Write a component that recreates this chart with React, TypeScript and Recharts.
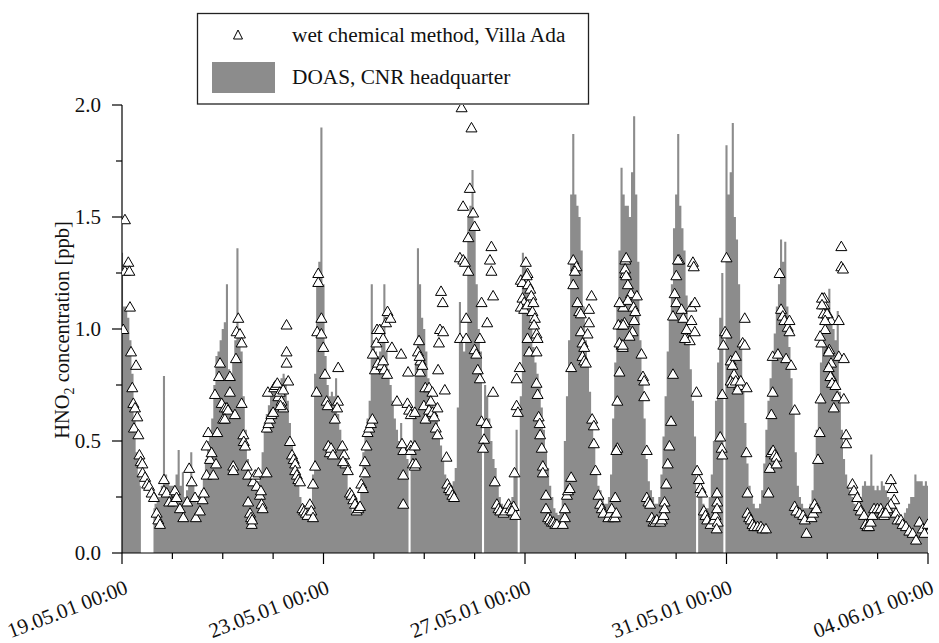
import React from 'react';
import { ComposedChart, Area, Scatter, XAxis, YAxis, Label } from 'recharts';

// DOAS, CNR headquarter: hourly values (hours since 19.05.01 00:00), null = no data
const doasDay19 = [1.34, 1.1, 1.1, 1.05, 0.95, 0.8, 0.6, 0.45, 0.35, 0.3, null, null, null, null, null, 0.2, 0.22, 0.25, 0.25, 0.3, 0.79, 0.35, 0.32, 0.3];
const doasDay20 = [0.3, 0.3, 0.35, 0.46, 0.3, 0.36, 0.25, 0.28, 0.3, 0.45, 0.3, 0.25, 0.22, 0.25, 0.28, 0.35, 0.42, 0.5, 0.55, 0.6, 0.75, 0.88, 0.9, 0.95];
const doasDay21 = [1.0, 1.03, 1.2, 0.82, 0.8, 0.85, 0.95, 1.36, 1.0, 0.9, 0.7, 0.55, 0.42, 0.35, 0.3, 0.28, 0.3, 0.32, 0.35, 0.45, 0.58, 0.62, 0.66, 0.7];
const doasDay22 = [0.72, 0.74, 0.72, 0.75, 0.78, 0.8, 0.78, 0.68, 0.58, 0.5, 0.42, 0.38, 0.3, 0.25, 0.2, 0.18, 0.18, 0.2, 0.22, 0.35, 0.8, 1.2, 1.3, 1.9];
const doasDay23 = [1.2, 0.88, 0.75, 0.7, 0.72, 0.7, 0.78, 0.62, 0.55, 0.5, 0.45, 0.35, 0.28, 0.2, 0.18, 0.2, 0.22, 0.2, 0.3, 0.45, 0.55, 0.6, 0.68, 1.2];
const doasDay24 = [0.95, 0.9, 0.88, 0.9, 0.95, 1.2, 0.9, 0.82, 0.75, 0.68, 0.6, 0.55, 0.5, 0.58, 0.45, 0.45, 0.42, 0, 0.45, 0.6, 0.85, 1.36, 1.2, 1.05];
const doasDay25 = [1.0, 0.9, 0.78, 0.72, 0.68, 0.62, 0.6, 0.55, 0.48, 0.42, 0.35, 0.32, 0.3, 0.3, 0.32, 0.38, 0.65, 1.12, 0.95, 0.9, 0.95, 1.5, 1.55, 1.71];
const doasDay26 = [1.45, 1.2, 1.0, 0.9, 0, 0.75, 0.7, 0.6, 0.5, 0.42, 0.38, 0.3, 0.25, 0.22, 0.2, 0.2, 0.22, 0.22, 0.25, 0.38, 0.55, 0, 0.7, 1.34];
const doasDay27 = [1.3, 1.2, 1.1, 1.0, 0.92, 0.85, 0.8, 0.75, 0.65, 0.55, 0.45, 0.38, 0.3, 0.25, 0.2, 0.18, 0.17, 0.18, 0.25, 0.5, 0.7, 0.95, 1.6, 1.87];
const doasDay28 = [1.6, 1.55, 1.5, 1.35, 1.1, 0.95, 0.85, 0.72, 0.6, 0.5, 0.38, 0.3, 0.28, 0.25, 0.22, 0.22, 0.25, 0.35, 0.6, 0.85, 1.1, 1.35, 1.72, 1.6];
const doasDay29 = [1.55, 1.55, 1.5, 1.7, 1.95, 1.6, 1.3, 0.95, 0.78, 0.6, 0.42, 0.32, 0.28, 0.25, 0.22, 0.22, 0.25, 0.35, 0.52, 0.7, 0.9, 1.05, 1.2, 1.45];
const doasDay30 = [1.6, 1.87, 1.55, 1.45, 1.35, 1.15, 0.98, 0.82, 0.68, 0.52, 0, 0.3, 0.25, 0.22, 0.2, 0.2, 0.25, 0.35, 0.5, 0.68, 0.85, 1.05, 1.25, 0];
const doasDay31 = [1.82, 1.6, 1.7, 1.92, 1.5, 1.4, 1.2, 0.95, 0.72, 0.58, 0.4, 0.3, 0.25, 0.22, 0.2, 0.2, 0.22, 0.28, 0.4, 0.55, 0.68, 0.78, 0.88, 0.98];
const doasDay01 = [1.1, 1.2, 1.4, 1.3, 1.39, 1.1, 0.92, 0.78, 0.62, 0.45, 0.3, 0.25, 0.22, 0.2, 0.2, 0.2, 0.22, 0.28, 0.4, 0.55, 0.7, 0.85, 0.98, 1.05];
const doasDay02 = [1.1, 1.18, 1.05, 1.0, 0.95, 1.08, 0.72, 0.55, 0.42, 0.35, 0.3, 0.28, 0.25, 0.22, 0.2, 0.2, 0.25, 0.3, 0.32, 0.3, 0.3, 0.44, 0.3, 0.28];
const doasDay03 = [0.3, 0.28, 0.32, 0.3, 0.28, 0.25, 0.22, 0.2, 0.18, 0.2, 0.18, 0.15, 0.15, 0.18, 0.2, 0.22, 0.25, 0.25, 0.35, 0.32, 0.32, 0.32, 0.3, 0.32, 0.3];

// wet chemical method, Villa Ada: [hours since 19.05.01 00:00, ppb]
const wet19: [number, number][] = [[1.4,1.49],[3.0,1.30],[1.4,1.26],[3.5,1.26],[3.8,1.10],[0.6,1.00],[4.3,0.90],[6.7,0.84],[4.9,0.74],[5.4,0.67],[6.2,0.65],[7.3,0.61],[5.7,0.56],[7.8,0.53],[8.3,0.44],[8.9,0.41],[9.7,0.40],[9.8,0.36],[11,0.34],[12,0.31],[12.9,0.30],[14.1,0.27],[15.2,0.25],[16.5,0.18],[17.3,0.15],[18.1,0.13],[20,0.33],[20,0.28],[21.3,0.27],[22.5,0.23]];
const wet20: [number, number][] = [[24.4,0.23],[25.2,0.28],[26,0.25],[27.6,0.20],[29.2,0.16],[31.1,0.23],[32,0.38],[33.2,0.32],[34.8,0.25],[35.2,0.16],[37.1,0.19],[38.4,0.24],[39,0.27],[40.3,0.35],[40.3,0.48],[41.1,0.54],[41.9,0.42],[42.7,0.45],[43.5,0.35],[44.8,0.40],[45.4,0.54],[44.3,0.71],[46.7,0.85],[46.2,0.79],[47.5,0.67]];
const wet21: [number, number][] = [[48.2,0.60],[49,0.65],[50,0.65],[50.5,0.64],[51.4,0.79],[51.4,0.72],[49,0.60],[53.8,0.62],[55.4,1.05],[54.6,0.99],[56.2,0.98],[57,0.94],[54.3,0.87],[57,0.67],[57.8,0.53],[58,0.50],[58.6,0.48],[53,0.39],[53,0.37],[59.4,0.39],[60.1,0.35],[60.1,0.23],[61,0.18],[61.5,0.16],[61.8,0.13],[62,0.15],[62.5,0.32],[63.5,0.35],[64.2,0.30],[65,0.36],[65.7,0.26],[66.2,0.28],[66.5,0.22],[67,0.20],[68.9,0.36],[69,0.56],[69.8,0.58],[70.5,0.60],[71.2,0.62],[72,0.63],[69.5,0.72]];
const wet22: [number, number][] = [[72.5,0.74],[73.2,0.75],[74,0.76],[74.5,0.70],[75.2,0.72],[76,0.68],[76.8,0.73],[76.8,0.65],[75.5,0.66],[78.4,1.02],[78.4,0.90],[78.4,0.85],[79.2,0.77],[80,0.50],[81,0.44],[81.8,0.42],[82.5,0.40],[82.5,0.37],[83.3,0.35],[84,0.33],[84.8,0.32],[86,0.20],[86.8,0.19],[87.6,0.18],[88.4,0.17],[89.5,0.22],[90.2,0.19],[91,0.16],[91,0.31],[92,0.39],[92.7,0.72],[93.5,1.25],[93.5,1.21],[95,1.05],[93,0.99],[95,0.98]];
const wet23: [number, number][] = [[95.9,0.92],[96.7,0.80],[97.5,0.68],[98,0.66],[98.3,0.48],[99,0.45],[99.6,0.47],[100.5,0.44],[101.4,0.60],[102.9,0.68],[102.5,0.65],[103,0.83],[105,0.48],[105.8,0.44],[106.5,0.40],[105.3,0.41],[107.6,0.37],[108.6,0.27],[109.4,0.26],[110.2,0.24],[111,0.22],[111.8,0.19],[112.6,0.20],[113.4,0.21],[114,0.31],[114.8,0.29],[115.7,0.41],[115.7,0.36],[116.5,0.48],[117,0.54],[117.8,0.56],[118.6,0.58],[119.3,0.60]];
const wet24: [number, number][] = [[119.5,0.89],[120.5,0.82],[121.2,0.94],[121.5,1.00],[122.8,1.00],[122,0.85],[123.6,0.84],[124.4,0.86],[125,0.82],[126.3,0.80],[124.4,0.96],[125.8,1.03],[126.5,1.08],[127.9,1.05],[128.6,0.92],[133,0.89],[136.3,0.81],[131,0.68],[136,0.67],[136.8,0.64],[137.6,0.62],[139.5,0.63],[134,0.46],[133.4,0.49],[137.6,0.48],[137.6,0.46],[138.6,0.40],[139.5,0.39],[134,0.35],[134,0.22]];
const wet25: [number, number][] = [[141.5,0.95],[141,0.90],[142.2,0.86],[142,0.81],[143.1,0.84],[141.8,0.88],[144.5,0.74],[143.8,0.66],[144.6,0.60],[139.5,0.48],[140,0.40],[146.3,0.74],[147.9,0.72],[147.1,0.68],[146.3,0.64],[147.9,0.63],[148.7,0.61],[150.3,0.65],[149.5,0.56],[150.3,0.53],[152,1.17],[152.8,1.12],[151.5,1.00],[153,0.99],[151,0.94],[150.6,0.82],[153.8,0.73],[154.6,0.43],[155,0.31],[155.8,0.29],[156.6,0.28],[157.4,0.26],[158.2,0.25],[161,0.96],[164,0.96],[162.5,1.55],[161.8,1.99],[166.5,1.90],[165.7,1.63],[167.3,1.52],[165,1.41],[161,1.32],[162.6,1.31],[163.4,1.30],[165,1.26],[164,1.05]];
const wet26: [number, number][] = [[168,1.46],[170.5,0.96],[168,0.91],[168.8,0.89],[169.5,0.82],[170.5,0.78],[176,1.37],[175.3,1.31],[176,1.26],[176.8,1.15],[171.3,1.12],[174,1.03],[176.8,0.72],[171.3,0.59],[173.6,0.58],[172.5,0.51],[172,0.47],[177.6,0.32],[178.6,0.22],[179.4,0.20],[180.2,0.19],[181.8,0.18],[182.6,0.19],[184.2,0.22],[185,0.20],[186.6,0.21],[185.8,0.19],[187.4,0.17],[187,0.36],[188,0.66],[188.6,0.63],[188,0.78],[189.5,0.83],[190,1.22],[190.8,1.21],[190.8,1.14],[191.6,1.12],[190,1.10],[191.6,1.09],[193.2,1.11],[193.2,0.96],[194,0.90]];
const wet27: [number, number][] = [[192.4,1.30],[193.2,1.25],[192.8,1.24],[193.5,1.20],[194.5,1.18],[195,1.15],[196,1.12],[195.5,1.08],[196.7,1.05],[196.3,1.02],[197.5,0.98],[198,0.96],[197.5,0.90],[197.5,0.76],[198,0.71],[198.5,0.61],[199,0.58],[199.2,0.53],[200,0.47],[200.5,0.39],[200.5,0.36],[202,0.26],[202,0.20],[203,0.16],[204,0.15],[204.8,0.14],[205.6,0.14],[206.4,0.13],[207.2,0.13],[210,0.13],[211,0.16],[211,0.20],[212,0.26],[212.5,0.28],[213.3,0.29],[214,0.34],[214,0.83],[215,1.31],[216.5,1.28],[215.8,1.26],[215,1.20]];
const wet28: [number, number][] = [[217,1.12],[217.8,1.08],[218.6,1.07],[218.6,0.99],[219.4,0.94],[220.2,0.92],[219.4,0.88],[220.2,0.86],[221,0.85],[221.8,0.98],[222.5,1.03],[222.5,1.09],[223.7,1.15],[224,0.60],[224.8,0.57],[224.8,0.49],[225.6,0.37],[227,0.26],[227.8,0.22],[228.6,0.20],[229.4,0.18],[231.7,0.16],[232.5,0.18],[233.3,0.20],[234,0.16],[234.8,0.16],[235,0.25],[236,0.47],[236,0.68],[237,0.81],[238,0.93],[238.6,0.92],[238,1.02],[239.4,1.03],[238.8,1.10],[239.8,1.25],[239.8,1.31]];
const wet29: [number, number][] = [[235.5,0.46],[235.5,0.18],[240.2,1.32],[239.7,1.27],[240.2,1.24],[241,1.20],[242.5,1.16],[241,1.13],[237,1.12],[245.3,1.15],[243.7,1.10],[244.5,1.08],[244,1.04],[236.5,1.02],[238.8,1.02],[243.2,0.99],[241.8,0.97],[237,0.94],[238.6,0.93],[247.5,0.89],[248.2,0.79],[248.8,0.77],[248.8,0.70],[250,0.46],[250,0.25],[250.8,0.23],[251.6,0.22],[252.4,0.16],[253.2,0.14],[254,0.14],[254.8,0.15],[256.4,0.14],[257.2,0.15],[258,0.17],[258.5,0.23],[258.5,0.20],[259.3,0.31],[260,0.40],[260.8,0.48],[261.6,0.59],[262.5,0.80],[262.5,1.06],[263.3,1.16],[264.1,1.12],[264.1,1.24],[265.5,1.31],[264.9,1.31]];
const wet30: [number, number][] = [[272,1.30],[272.4,1.28],[266.6,1.09],[267.4,1.05],[269,1.00],[269,0.96],[270.5,0.95],[268.2,0.96],[271.3,1.10],[272.9,1.12],[271.3,1.04],[272.9,0.99],[273.7,0.72],[274,0.37],[274.8,0.33],[275.6,0.29],[276.4,0.27],[277.2,0.19],[278,0.17],[278.8,0.15],[280.4,0.13],[282,0.15],[282.8,0.17],[283.6,0.23],[285,0.52],[285.7,0.47],[286,0.44],[286,0.71],[286.5,0.93],[287.3,0.99],[288,0.98],[288,1.32],[283.5,0.27],[283.5,0.20],[283.8,0.14],[283.3,0.11]];
const wet31: [number, number][] = [[290,0.86],[290.8,0.84],[292.4,0.88],[291.6,0.80],[290,0.77],[290.8,0.76],[292.4,0.77],[294,0.75],[293.2,0.73],[294.8,0.77],[297.6,0.74],[296.7,1.05],[295.7,0.94],[296.7,0.93],[297.5,0.45],[298,0.27],[298,0.18],[298.8,0.16],[299.6,0.15],[300.4,0.13],[301.2,0.12],[302.8,0.12],[304.4,0.12],[305.2,0.11],[306.8,0.11],[308,0.27],[308.6,0.38],[309.4,0.45],[310.2,0.46],[311,0.44],[311.8,0.43],[311.8,0.40],[310,0.72],[309.4,0.62],[310,0.88],[312.5,0.89]];
const wet01: [number, number][] = [[313.3,1.25],[314,1.09],[314.8,1.06],[315.6,1.04],[317.2,1.01],[318,1.04],[316.4,0.87],[318.8,0.84],[318,0.99],[320.5,0.64],[320.5,0.21],[321.3,0.19],[322.9,0.18],[324.5,0.17],[325.3,0.15],[326.1,0.09],[328.5,0.16],[329.3,0.18],[330,0.22],[330.8,0.20],[331.6,0.42],[332.4,0.54],[332.8,0.69],[333.2,0.94]];
const wet02: [number, number][] = [[334.6,1.14],[334.6,1.11],[335.4,1.07],[336.2,1.07],[336.2,1.04],[337.8,1.04],[337,0.91],[337.8,0.85],[337.8,0.79],[333.5,1.14],[333.5,1.11],[334.3,1.07],[335.9,1.07],[335,1.04],[335,1.00],[332.6,0.97],[336.7,0.90],[336.7,0.83],[337.5,0.79],[338.3,0.76],[339.9,0.75],[340.7,0.70],[339.1,0.65],[341.5,0.88],[343.9,0.87],[341.5,1.04],[343.9,0.69],[342.7,1.37],[342.7,1.28],[343.5,1.27],[345,0.53],[345,0.49],[348,0.31],[348.7,0.28],[350.3,0.25],[351.1,0.21],[351.9,0.19],[353.5,0.17],[354.3,0.13],[355.1,0.12],[355.9,0.12],[356.7,0.14],[357.5,0.17],[358.3,0.20],[359.9,0.20],[361.5,0.20],[362.3,0.18],[363.1,0.17]];
const wet03: [number, number][] = [[366.3,0.33],[367.1,0.29],[367.9,0.24],[366.3,0.22],[364.7,0.20],[363.9,0.18],[368.7,0.18],[369.5,0.15],[371.1,0.15],[371.9,0.13],[373.5,0.12],[375.1,0.10],[376.7,0.09],[378.3,0.06],[379.9,0.14],[381.5,0.11],[383.9,0.13],[384.7,0.10],[382.3,0.09]];

const xTickValues = [0, 24, 48, 72, 96, 120, 144, 168, 192, 216, 240, 264, 288, 312, 336, 360, 384];
const xTickLabels: Record<number, string> = {
  0: '19.05.01 00:00',
  96: '23.05.01 00:00',
  192: '27.05.01 00:00',
  288: '31.05.01 00:00',
  384: '04.06.01 00:00',
};
const yTickValues = [0, 0.25, 0.5, 0.75, 1.0, 1.25, 1.5, 1.75, 2.0];
const yTickLabels: Record<string, string> = { '0': '0.0', '0.5': '0.5', '1': '1.0', '1.5': '1.5', '2': '2.0' };

const doasSeries = [
  ...doasDay19, ...doasDay20, ...doasDay21, ...doasDay22, ...doasDay23, ...doasDay24, ...doasDay25, ...doasDay26,
  ...doasDay27, ...doasDay28, ...doasDay29, ...doasDay30, ...doasDay31, ...doasDay01, ...doasDay02, ...doasDay03,
];
const doasData = doasSeries.map((y, i) => ({ t: i, y }));
const wetData = [
  ...wet19, ...wet20, ...wet21, ...wet22, ...wet23, ...wet24, ...wet25, ...wet26,
  ...wet27, ...wet28, ...wet29, ...wet30, ...wet31, ...wet01, ...wet02, ...wet03,
].map(([t, y]) => ({ t, y }));

const FONT = '"Liberation Serif", "Times New Roman", serif';
const GREY = '#8c8c8c';

const XTick = (props: any) => {
  const { x, y, payload } = props;
  const label = xTickLabels[payload.value];
  const major = label !== undefined;
  const lx = x + 7;
  const ly = y + 40;
  return (
    <g>
      <line x1={x} y1={y} x2={x} y2={y + (major ? 11 : 6)} stroke="#000" strokeWidth={1.2} />
      {major && (
        <text x={lx} y={ly} transform={`rotate(-21, ${lx}, ${ly})`} textAnchor="end" fontSize={21} fontFamily={FONT} fill="#111">
          {label}
        </text>
      )}
    </g>
  );
};

const YTick = (props: any) => {
  const { x, y, payload } = props;
  const label = yTickLabels[String(payload.value)];
  const major = label !== undefined;
  return (
    <g>
      <line x1={x - (major ? 10 : 6)} y1={y} x2={x} y2={y} stroke="#000" strokeWidth={1.2} />
      {major && (
        <text x={x - 21} y={y + 7} textAnchor="end" fontSize={21} fontFamily={FONT} fill="#111">
          {label}
        </text>
      )}
    </g>
  );
};

const YLabel = () => (
  <text transform="translate(69, 330) rotate(-90)" textAnchor="middle" fontSize={20.5} fontFamily={FONT} fill="#111">
    HNO
    <tspan dy={5} fontSize={14}>2</tspan>
    <tspan dy={-5}> concentration [ppb]</tspan>
  </text>
);

const Triangle = (props: any) => {
  const { cx, cy } = props;
  if (cx == null || cy == null) return null;
  return (
    <path
      d={`M${cx},${cy - 5} L${cx + 5.5},${cy + 4.5} L${cx - 5.5},${cy + 4.5} Z`}
      fill="#fff"
      stroke="#000"
      strokeWidth={1}
    />
  );
};

const LegendBox = () => (
  <svg width={600} height={110} style={{ position: 'absolute', left: 0, top: 0 }}>
    <rect x={197.5} y={13.5} width={391} height={90.5} fill="none" stroke="#222" strokeWidth={1.3} />
    <path d="M238,30 L242.5,39 L233.5,39 Z" fill="#fff" stroke="#000" strokeWidth={1} />
    <text x={292} y={42} fontSize={21.3} fontFamily={FONT} fill="#111">wet chemical method, Villa Ada</text>
    <rect x={212} y={62} width={63} height={31} fill={GREY} />
    <text x={292} y={84} fontSize={21.3} fontFamily={FONT} fill="#111">DOAS, CNR headquarter</text>
  </svg>
);

export default function App() {
  return (
    <div style={{ position: 'absolute', left: 0, top: 0, width: 939, height: 643, background: '#fff' }}>
      <ComposedChart
        width={939}
        height={643}
        data={doasData}
        margin={{ top: 105, right: 11, bottom: 0, left: 62 }}
      >
        <XAxis
          dataKey="t"
          type="number"
          domain={[0, 384]}
          ticks={xTickValues}
          interval={0}
          tickSize={0}
          tickMargin={0}
          tick={<XTick />}
          height={90}
          axisLine={{ stroke: '#000', strokeWidth: 1.2 }}
          allowDataOverflow
        />
        <YAxis
          type="number"
          domain={[0, 2]}
          ticks={yTickValues}
          interval={0}
          tickSize={0}
          tickMargin={0}
          tick={<YTick />}
          width={60}
          axisLine={{ stroke: '#000', strokeWidth: 1.2 }}
          allowDataOverflow
        >
          <Label content={<YLabel />} />
        </YAxis>
        <Area
          type="step"
          dataKey="y"
          fill={GREY}
          fillOpacity={1}
          stroke="none"
          connectNulls={false}
          isAnimationActive={false}
        />
        <Scatter data={wetData} dataKey="y" shape={<Triangle />} isAnimationActive={false} />
      </ComposedChart>
      <LegendBox />
    </div>
  );
}
